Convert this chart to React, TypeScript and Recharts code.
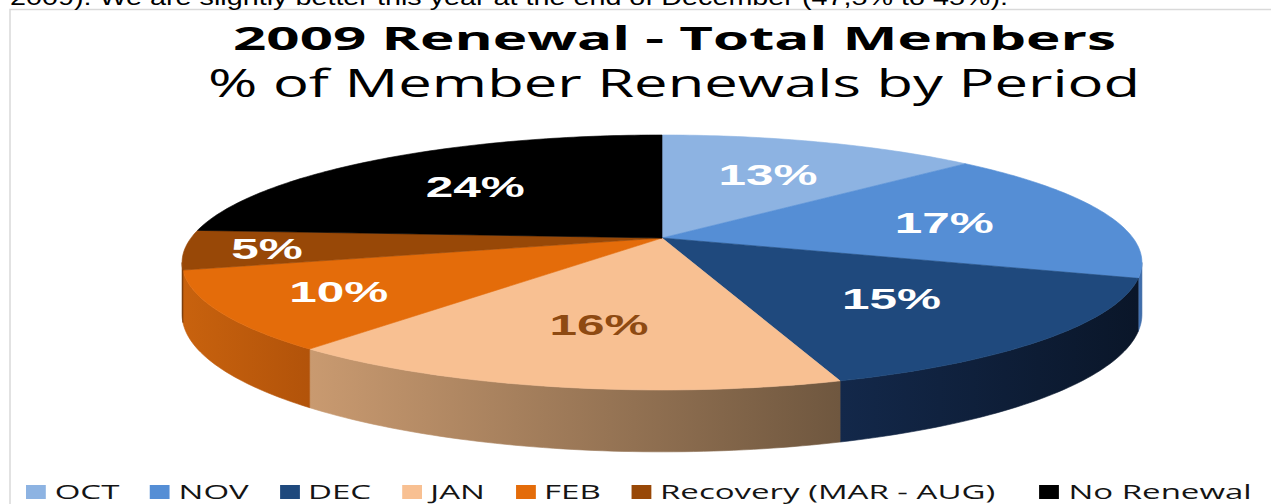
import React from 'react';
import { PieChart, Pie, Cell, Legend } from 'recharts';

// ---- data ----
const categories = ['OCT', 'NOV', 'DEC', 'JAN', 'FEB', 'Recovery (MAR - AUG)', 'No Renewal'];
const shares = [13, 17, 15, 16, 10, 5, 24];
const topColors = ['#8db3e2', '#558ed5', '#1f497d', '#f8c092', '#e46c0a', '#984807', '#000000'];
const sideLight = ['#7a9fcf', '#4676b8', '#13284a', '#c99a70', '#c8620e', '#7e3c06', '#111111'];
const sideDark = ['#6f93c2', '#3b68a4', '#0a1629', '#6f573f', '#b2530a', '#6e3305', '#000000'];
const labelColors = ['#ffffff', '#ffffff', '#ffffff', '#8e4a12', '#ffffff', '#ffffff', '#ffffff'];
const titleText = '2009 Renewal - Total Members';
const subtitleText = '% of Member Renewals by Period';
const captionText = '2009). We are slightly better this year at the end of December (47,5% to 45%).';

const data = categories.map((name, i) => ({ name, value: shares[i] }));

// ---- 3D perspective geometry ----
const K = 0.192; // perspective factor
const SQUASH = 0.2607; // vertical squash relative to radius
const DEPTH = 50; // thickness of pie
const SIL = (Math.acos(-K) * 180) / Math.PI; // silhouette angle (clockwise from top)

function project(cx: number, cy: number, r: number, a: number, f = 1) {
  const t = (a * Math.PI) / 180;
  const u = f * Math.sin(t);
  const v = f * Math.cos(t);
  const w = 1 + K * v;
  return { x: cx + (r * u) / w, y: cy - (r * SQUASH * v) / w, w };
}

function idxOf(props: any): number {
  const n = props?.payload?.name ?? props?.name;
  const i = categories.indexOf(n);
  return i >= 0 ? i : props?.index ?? 0;
}

function Slice3D(props: any) {
  const { cx, cy, outerRadius, startAngle, endAngle } = props;
  let a0 = 90 - startAngle;
  let a1 = 90 - endAngle;
  if (a1 < a0) [a0, a1] = [a1, a0];
  const i = idxOf(props);
  const col = topColors[i];
  const steps = Math.max(2, Math.ceil(a1 - a0));
  const pts: { x: number; y: number; w: number }[] = [];
  for (let s = 0; s <= steps; s++) pts.push(project(cx, cy, outerRadius, a0 + ((a1 - a0) * s) / steps));
  const top =
    `M${cx.toFixed(2)},${cy.toFixed(2)} ` +
    pts.map((p) => `L${p.x.toFixed(2)},${p.y.toFixed(2)}`).join(' ') +
    ' Z';

  let side: React.ReactNode = null;
  const s0 = Math.max(a0, SIL);
  const s1 = Math.min(a1, 360 - SIL);
  if (s1 > s0) {
    const n = Math.max(2, Math.ceil(s1 - s0));
    const up: { x: number; y: number }[] = [];
    const down: { x: number; y: number }[] = [];
    for (let s = 0; s <= n; s++) {
      const p = project(cx, cy, outerRadius, s0 + ((s1 - s0) * s) / n);
      up.push({ x: p.x, y: p.y });
      down.push({ x: p.x, y: p.y + DEPTH / p.w });
    }
    const xs = up.map((p) => p.x);
    const minX = Math.min(...xs);
    const maxX = Math.max(...xs);
    const d =
      'M' +
      up.map((p) => `${p.x.toFixed(2)},${p.y.toFixed(2)}`).join(' L') +
      ' L' +
      down
        .slice()
        .reverse()
        .map((p) => `${p.x.toFixed(2)},${p.y.toFixed(2)}`)
        .join(' L') +
      ' Z';
    const gid = `side-grad-${i}`;
    side = (
      <g>
        <defs>
          <linearGradient id={gid} gradientUnits="userSpaceOnUse" x1={minX} y1={0} x2={maxX} y2={0}>
            <stop offset="0%" stopColor={sideLight[i]} />
            <stop offset="100%" stopColor={sideDark[i]} />
          </linearGradient>
        </defs>
        <path d={d} fill={`url(#${gid})`} stroke={`url(#${gid})`} strokeWidth={0.6} />
      </g>
    );
  }
  return (
    <g>
      {side}
      <path d={top} fill={col} stroke={col} strokeWidth={0.6} />
    </g>
  );
}

function renderLabel(props: any) {
  const { cx, cy, midAngle, outerRadius, percent } = props;
  const a = 90 - midAngle;
  const f = percent < 0.07 ? 0.83 : percent < 0.12 ? 0.75 : 0.63;
  const p = project(cx, cy, outerRadius, a, f);
  const i = idxOf(props);
  return (
    <text
      transform={`translate(${p.x.toFixed(2)},${(p.y + 11).toFixed(2)}) scale(1.65,1)`}
      textAnchor="middle"
      fontSize={30}
      fontWeight="bold"
      fontFamily="'Liberation Sans', Arial, sans-serif"
      fill={labelColors[i]}
    >
      {`${Math.round(percent * 100)}%`}
    </text>
  );
}

function LegendContent() {
  return (
    <div
      style={{
        transform: 'scaleX(1.65)',
        transformOrigin: '0 0',
        display: 'flex',
        alignItems: 'center',
        whiteSpace: 'nowrap',
        fontFamily: "'Open Sans', sans-serif",
        fontSize: 20,
        lineHeight: '22px',
        color: '#141414',
      }}
    >
      {categories.map((c, i) => (
        <div key={c} style={{ display: 'flex', alignItems: 'center', marginRight: i === 5 ? 27 : 18.5 }}>
          <span style={{ display: 'inline-block', width: 12, height: 14, background: topColors[i], marginRight: 5.4 }} />
          <span>{c}</span>
        </div>
      ))}
    </div>
  );
}

export default function App() {
  return (
    <div style={{ position: 'absolute', left: 0, top: 0, width: 1271, height: 504, background: '#fff', overflow: 'hidden' }}>
      <svg width={1271} height={504} style={{ position: 'absolute', left: 0, top: 0 }}>
        <rect x={10} y={9.5} width={1300} height={600} fill="none" stroke="#d9d9d9" strokeWidth={1.5} />
      </svg>
      <div style={{ position: 'absolute', left: 0, top: 0 }}>
        <PieChart width={1271} height={504} margin={{ top: 0, right: 0, bottom: 0, left: 0 }}>
          <Pie
            data={data}
            dataKey="value"
            nameKey="name"
            cx={662}
            cy={238}
            outerRadius={471}
            startAngle={90}
            endAngle={-270}
            isAnimationActive={false}
            stroke="none"
            shape={(p: any) => <Slice3D {...p} />}
            label={renderLabel}
            labelLine={false}
          >
            {data.map((d, i) => (
              <Cell key={d.name} fill={topColors[i]} />
            ))}
          </Pie>
          <Legend
            content={() => <LegendContent />}
            wrapperStyle={{ position: 'absolute', left: 26, top: 481, width: 'auto', height: 22 }}
          />
        </PieChart>
      </div>
      <svg width={1271} height={504} style={{ position: 'absolute', left: 0, top: 0, pointerEvents: 'none' }}>
        <text x={10} y={5} fontFamily="'Liberation Sans', Arial, sans-serif" fontSize={22} textLength={998} lengthAdjust="spacingAndGlyphs" fill="#000">
          {captionText}
        </text>
        <text x={233} y={50} fontFamily="'Open Sans', sans-serif" fontWeight="bold" fontSize={32} textLength={883} lengthAdjust="spacingAndGlyphs" fill="#000">
          {titleText}
        </text>
        <text x={208} y={97} fontFamily="'Open Sans', sans-serif" fontSize={38} textLength={932} lengthAdjust="spacingAndGlyphs" fill="#000">
          {subtitleText}
        </text>
      </svg>
    </div>
  );
}
